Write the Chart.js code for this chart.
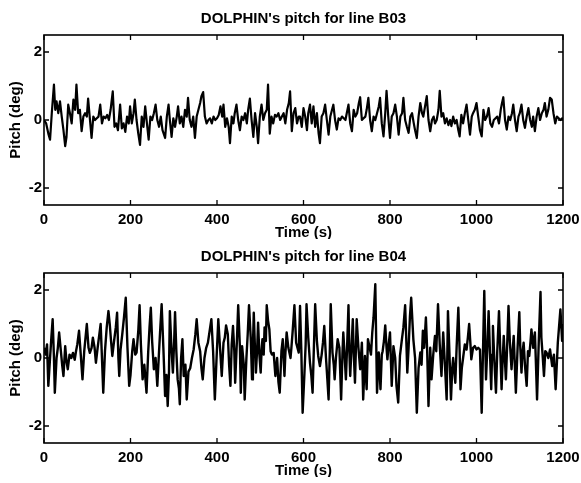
<!DOCTYPE html>
<html>
<head>
<meta charset="utf-8">
<title>DOLPHIN pitch</title>
<script src="https://cdn.jsdelivr.net/npm/chart.js@4"></script>
<style>
  body { margin: 0; background: #fff; width: 581px; height: 483px; position: relative; overflow: hidden; }
  .panel { position: absolute; left: 0; width: 581px; height: 239px; }
</style>
</head>
<body>
<div class="panel" style="top:0"><canvas id="chartB03" width="581" height="239"></canvas></div>
<div class="panel" style="top:238px"><canvas id="chartB04" width="581" height="239"></canvas></div>
<script>
// axis ticks
const xTicks = [0, 200, 400, 600, 800, 1000, 1200];
const yTicks = [-2, 0, 2];

// line B03 - time (s) and pitch (deg)
const b03Time = [
    0, 5, 10, 14, 18, 23, 26, 29, 33, 37,
    41, 45, 49, 52, 56, 60, 64, 68, 72, 75,
    79, 83, 87, 91, 95, 99, 102, 106, 110, 114,
    118, 122, 126, 130, 134, 138, 142, 146, 150, 154,
    159, 163, 167, 171, 176, 180, 184, 188, 192, 196,
    199, 203, 207, 210, 214, 218, 222, 226, 230, 234,
    238, 242, 246, 250, 254, 258, 262, 266, 270, 274,
    280, 284, 288, 291, 295, 299, 303, 307, 310, 314,
    318, 322, 326, 330, 333, 337, 341, 345, 349, 353,
    357, 361, 364, 368, 372, 376, 380, 384, 388, 392,
    396, 400, 404, 408, 412, 415, 419, 423, 427, 430,
    434, 438, 441, 445, 449, 453, 457, 461, 465, 469,
    472, 476, 480, 484, 488, 492, 495, 499, 503, 507,
    511, 515, 518, 522, 526, 530, 534, 538, 542, 546,
    550, 554, 558, 562, 566, 569, 573, 577, 581, 585,
    589, 592, 596, 600, 604, 608, 611, 615, 619, 623,
    627, 631, 635, 638, 642, 646, 650, 654, 658, 662,
    666, 669, 673, 677, 681, 685, 689, 693, 697, 700,
    704, 708, 712, 716, 720, 724, 728, 731, 735, 739,
    743, 746, 750, 754, 758, 762, 766, 770, 774, 777,
    781, 785, 789, 792, 796, 800, 804, 808, 812, 816,
    820, 824, 828, 831, 835, 839, 843, 847, 851, 855,
    858, 862, 866, 870, 874, 877, 881, 885, 889, 893,
    897, 901, 904, 908, 912, 915, 919, 923, 927, 931,
    935, 939, 942, 946, 950, 954, 958, 961, 965, 969,
    973, 977, 981, 985, 989, 992, 996, 1000, 1004, 1008,
    1012, 1016, 1020, 1024, 1028, 1032, 1036, 1040, 1044, 1048,
    1052, 1056, 1059, 1062, 1066, 1070, 1074, 1078, 1082, 1085,
    1089, 1093, 1097, 1100, 1104, 1108, 1112, 1116, 1120, 1124,
    1128, 1131, 1135, 1139, 1143, 1147, 1151, 1155, 1158, 1162,
    1166, 1170, 1174, 1178, 1182, 1186, 1190, 1194, 1198, 1200
];
const b03Pitch = [
    0, -0.1, -0.4, -0.58, 0.2, 1.04, 0.3, 0.55, 0.2, 0.55,
    0.1, -0.3, -0.77, -0.5, 0.45, 0.2, -0.1, 0.6, 0.3, 1.04,
    0.2, 0.3, -0.33, 0.1, 0.2, 0.1, 0.63, 0.05, -0.53, 0.1,
    0, 0.05, 0.1, 0.45, -0.1, 0.1, 0.05, 0.15, 0, 0.3,
    0.84, -0.2, -0.1, -0.3, 0.45, -0.25, -0.1, -0.35, 0.1, -0.1,
    0.4, -0.1, 0.2, 0.6, 0, -0.4, -0.73, 0.1, -0.2, 0.4,
    -0.1, -0.58, 0.1, 0, 0.2, 0.45, 0, -0.2, 0.1, -0.3,
    -0.53, 0.1, 0.45, 0, -0.5, 0.05, -0.2, 0.1, 0.4, -0.1,
    0.1, -0.2, 0.3, 0.1, 0.65, 0, -0.2, 0.1, -0.53, 0.1,
    0.3, 0.5, 0.7, 0.82, 0.1, -0.1, 0, 0.05, -0.1, 0.1,
    0, 0.05, 0.15, 0.4, 0.1, 0.45, -0.2, 0.05, -0.2, -0.68,
    0.1, -0.1, 0.2, 0.45, 0, -0.3, 0.1, 0, 0.2, -0.1,
    0.3, 0.63, 0, -0.5, 0.2, -0.2, -0.68, 0.1, 0.45, 0,
    0.2, 0.3, 1.04, -0.4, 0.1, -0.1, 0.15, 0.1, 0.2, 0,
    0.1, 0.2, -0.1, 0.3, 0.5, 0.84, -0.33, 0.2, 0.35, -0.1,
    0.1, 0.1, -0.2, 0.35, 0.1, -0.3, 0.2, 0.45, -0.1, 0.4,
    -0.2, 0.2, -0.4, -0.68, 0.1, 0.2, 0.45, 0, -0.43, 0.1,
    0.3, 0.45, 0, -0.28, 0.05, 0, 0.1, 0.05, 0, 0.2,
    0.45, -0.1, -0.33, 0.3, 0.1, 0.2, 0.5, 0.67, 0, 0.05,
    0.1, 0.3, 0.65, 0, -0.33, 0.1, 0, 0.2, 0.4, 0.65,
    -0.1, -0.48, 0.2, 0.86, 0.1, -0.53, 0.1, 0.2, 0.45, 0.1,
    -0.43, 0.1, 0.2, 0.65, 0, -0.2, -0.38, 0.1, 0.2, -0.1,
    -0.3, -0.53, 0.1, 0.5, 0.2, 0.1, 0.4, 0.7, 0, -0.33,
    0, 0.1, -0.1, 0, 0.3, 0.86, 0.1, 0.2, -0.1, 0.05,
    -0.15, 0, -0.18, 0.1, -0.1, 0, -0.3, -0.48, 0.15, -0.1,
    0.2, 0.45, 0, -0.43, 0.1, 0.2, 0.3, 0.5, 0.1, -0.3,
    -0.48, 0.3, 0, 0.1, 0.35, -0.1, -0.2, 0, 0.05, 0.1,
    -0.1, 0.3, 0.5, 0.67, 0, -0.28, 0.1, 0, 0.2, 0.45,
    0, -0.33, 0.1, 0.2, 0.45, 0, -0.23, 0.1, 0.35, 0,
    -0.2, 0.1, -0.33, 0.1, 0.35, 0, 0.2, 0.3, 0.5, 0.1,
    0.3, 0.65, 0.6, 0.2, -0.1, 0.1, 0.05, 0, 0.05, 0
];

// line B04
const b04Time = [
    0, 4, 7, 10, 14, 17, 20, 23, 25, 29,
    32, 35, 39, 42, 45, 49, 52, 55, 59, 63,
    67, 71, 74, 77, 81, 85, 89, 93, 96, 99,
    103, 106, 110, 113, 117, 120, 124, 128, 131, 134,
    137, 141, 145, 149, 152, 155, 158, 162, 166, 169,
    172, 174, 177, 181, 185, 189, 193, 197, 200, 204,
    207, 211, 214, 218, 221, 224, 228, 232, 237, 241,
    244, 247, 250, 254, 258, 262, 266, 269, 272, 276,
    280, 283, 286, 289, 291, 295, 298, 301, 303, 306,
    309, 312, 314, 317, 320, 323, 327, 330, 334, 338,
    342, 346, 350, 353, 357, 361, 364, 367, 371, 375,
    379, 383, 387, 391, 395, 399, 403, 407, 411, 415,
    418, 421, 425, 428, 431, 434, 437, 440, 442, 446,
    449, 453, 455, 458, 462, 464, 468, 471, 474, 478,
    481, 483, 485, 488, 490, 493, 495, 498, 501, 503,
    505, 508, 510, 513, 515, 518, 521, 524, 527, 531,
    535, 539, 542, 545, 549, 552, 556, 558, 561, 565,
    570, 572, 575, 579, 583, 586, 589, 592, 595, 598,
    602, 605, 607, 611, 615, 618, 621, 624, 627, 631,
    634, 638, 642, 645, 648, 652, 655, 658, 661, 663,
    667, 670, 672, 675, 679, 683, 687, 690, 692, 695,
    698, 701, 704, 706, 708, 711, 714, 716, 719, 721,
    723, 727, 731, 735, 738, 742, 746, 749, 753, 756,
    759, 762, 766, 770, 774, 778, 781, 783, 786, 789,
    792, 794, 797, 800, 804, 808, 812, 815, 819, 823,
    828, 831, 835, 838, 840, 843, 846, 849, 854, 858,
    862, 866, 870, 873, 876, 879, 883, 886, 889, 893,
    896, 900, 904, 907, 911, 915, 919, 923, 927, 931,
    934, 937, 941, 944, 946, 951, 954, 958, 961, 963,
    966, 969, 973, 977, 980, 983, 986, 988, 992, 996,
    1000, 1004, 1008, 1012, 1015, 1018, 1020, 1022, 1025, 1028,
    1031, 1034, 1036, 1038, 1041, 1045, 1048, 1052, 1055, 1058,
    1060, 1063, 1065, 1068, 1071, 1074, 1077, 1081, 1083, 1086,
    1088, 1091, 1095, 1099, 1101, 1104, 1106, 1109, 1112, 1116,
    1119, 1122, 1125, 1127, 1131, 1135, 1137, 1140, 1144, 1148,
    1150, 1153, 1156, 1159, 1162, 1166, 1170, 1175, 1179, 1183,
    1188, 1194, 1198, 1200
];
const b04Pitch = [
    0.3, 0.1, 0.4, -0.82, 0, 0.6, 1.14, 0, -1.02, 0,
    0.3, 0.75, 0.2, -0.2, -0.53, 0.35, -0.1, -0.33, 0.1, 0,
    0.15, -0.05, 0.2, 0.4, 0.8, 0.1, -0.63, 0.2, 0.6, 1.0,
    0.3, 0.15, 0.3, 0.6, 0.3, -0.14, 0.3, 0.7, 1.0, 0,
    -1.02, 0.2, 0.9, 1.38, 1.0, 0.5, 0.06, 0.5, 0.9, 1.33,
    0, -0.53, 0.25, 0.7, 1.2, 1.77, 0.3, -0.82, -0.5, 0.2,
    0.55, 0.1, 0.16, 0.8, 1.55, 0.4, -0.63, -0.2, -1.02, 0.2,
    0.9, 1.48, 0.5, -0.33, 0, -0.82, 0.2, 0.9, 1.58, 0.3,
    -1.12, -0.5, -1.41, -0.4, 1.38, 0.2, -0.43, 0.5, 1.35, 0.2,
    -0.63, -0.9, -1.36, 0, 0.55, -0.53, -0.2, -1.22, -0.4, -0.3,
    0, 0.25, 0.7, 1.14, 0.45, 0.2, -0.3, -0.63, 0, 0.3,
    0.45, 0.8, 1.14, 0.2, -1.22, 0, 1.14, 0.3, -0.53, 0.45,
    0.6, 0.96, 0.7, -0.2, -0.82, 0.4, 0.94, 0.2, -0.73, 0.5,
    1.55, 0.3, -1.02, 0.35, -0.2, -1.22, 0, 0.7, 1.55, 0.6,
    -0.63, 0.3, 1.33, 0.2, -0.43, 0.3, 1.04, 0.1, -0.43, 0.2,
    0.55, 0.1, 0.9, 0.5, 1.55, 1.1, 0.85, 0.2, 0.1, 0.15,
    -0.53, 0, -0.7, -1.02, 0.2, 0.55, -0.53, 0.1, 0.75, 0.3,
    0, 0.3, 0.8, 1.55, 0.45, 0.3, 0.16, 1.53, 0.2, -1.61,
    -0.5, 0.4, 1.58, 0.6, -0.14, -0.5, -1.02, 0.3, 1.58, 0.5,
    0.06, -0.24, 0.1, 0.45, 0.94, 0, -0.6, -1.22, 0.3, 1.58,
    0.16, -0.2, -0.63, 0, 0.55, 0.3, -1.22, 0.1, 0.75, 0.1,
    -0.63, 0.4, 1.55, 0.2, -0.53, 0.3, 1.14, 0.2, -0.73, 0.2,
    1.14, 0.3, -0.33, 0.45, -1.22, 0.06, -0.92, 0.55, 0.3, 0.1,
    0.75, 1.2, 2.17, -1.02, 0.16, -0.92, 0.1, 0.2, 0.5, 0.96,
    0.3, -0.04, 0.4, 0.75, -0.82, 0.35, 0, -0.82, -1.31, 0.06,
    0.6, 0.9, 1.55, 0.4, -0.43, 0.3, 1.2, 1.77, 0.55, 0,
    -1.61, -0.3, 0.16, -0.2, 0.8, 0.3, 1.19, 0.2, -1.41, 0.3,
    -0.63, 0.1, 0.65, 0.2, 1.58, 0.4, -0.53, 0.75, -0.2, -1.22,
    1.38, 0.3, -1.22, -0.3, 0, -0.73, 0.3, 1.48, 0.2, -0.92,
    -0.3, 0, 0.4, 0.25, 0.6, 1.0, 0.4, -0.04, 0.3, 0.35,
    0.25, 0.3, 0.25, -1.61, 0.2, 1.97, 0.5, -0.63, 0.3, 1.38,
    0.2, -0.92, 0.1, 0.94, 0, -1.02, 0.2, 1.38, 0.2, -0.92,
    -0.2, 0.65, 0.1, -0.63, 0.4, 1.53, 0.5, -0.33, 0.1, 0.65,
    0, -1.02, 0.3, 1.35, 0.4, -0.43, 0.1, 0.45, -0.2, -0.82,
    0.2, 0.06, 0.5, 0.84, 0.3, 0.75, 0, -1.22, 0.5, 1.94,
    0.6, 0.06, -0.53, 0.2, 0.16, 0, 0.25, -0.24, 0.1, -0.92,
    0.45, 1.43, 0.5, 1.0
];

Chart.defaults.font.family = "'Liberation Sans', Arial, sans-serif";
Chart.defaults.font.weight = 'bold';
Chart.defaults.font.size = 15;
Chart.defaults.color = '#000';

// matlab style box with inward ticks on all four sides
const boxTicks = {
    id: 'boxTicks',
    afterDraw(chart) {
        const { ctx, chartArea: a, scales: { x, y } } = chart;
        ctx.save();
        ctx.strokeStyle = '#000';
        ctx.lineWidth = 1.6;
        ctx.strokeRect(a.left, a.top, a.right - a.left, a.bottom - a.top);
        ctx.lineWidth = 1.3;
        ctx.beginPath();
        xTicks.forEach(v => {
            const px = x.getPixelForValue(v);
            ctx.moveTo(px, a.bottom); ctx.lineTo(px, a.bottom - 5);
            ctx.moveTo(px, a.top); ctx.lineTo(px, a.top + 5);
        });
        yTicks.forEach(v => {
            const py = y.getPixelForValue(v);
            ctx.moveTo(a.left, py); ctx.lineTo(a.left + 5, py);
            ctx.moveTo(a.right, py); ctx.lineTo(a.right - 5, py);
        });
        ctx.stroke();
        ctx.restore();
    }
};

function makePitchChart(id, title, times, pitch, lineWidth) {
    const points = times.map((t, i) => ({ x: t, y: pitch[i] }));
    return new Chart(document.getElementById(id), {
        type: 'line',
        data: {
            datasets: [{
                data: points,
                borderColor: '#000',
                borderWidth: lineWidth,
                borderJoinStyle: 'round',
                pointRadius: 0,
                tension: 0
            }]
        },
        options: {
            responsive: false,
            animation: false,
            plugins: {
                legend: { display: false },
                tooltip: { enabled: false },
                title: {
                    display: true,
                    text: title,
                    fullSize: false,
                    padding: { top: 10, bottom: 7 },
                    font: { size: 15, weight: 'bold' }
                }
            },
            scales: {
                x: {
                    type: 'linear',
                    min: 0,
                    max: 1200,
                    grid: { display: false, drawTicks: false, tickLength: 0 },
                    border: { display: false },
                    afterBuildTicks: s => { s.ticks = xTicks.map(v => ({ value: v })); },
                    afterFit: s => { s.height = 34; s.paddingLeft = 0; s.paddingRight = 18; },
                    ticks: { padding: 6, autoSkip: false, maxRotation: 0, callback: v => String(v) },
                    title: { display: true, text: 'Time (s)', padding: { top: 0, bottom: -3 } }
                },
                y: {
                    min: -2.5,
                    max: 2.5,
                    grid: { display: false, drawTicks: false, tickLength: 0 },
                    border: { display: false },
                    afterBuildTicks: s => { s.ticks = yTicks.map(v => ({ value: v })); },
                    afterFit: s => { s.width = 44; },
                    ticks: { padding: 2, callback: v => String(v) },
                    title: { display: true, text: 'Pitch (deg)', padding: { top: 7, bottom: 0 } }
                }
            }
        },
        plugins: [boxTicks]
    });
}

makePitchChart('chartB03', "DOLPHIN's pitch for line B03", b03Time, b03Pitch, 2.2);
makePitchChart('chartB04', "DOLPHIN's pitch for line B04", b04Time, b04Pitch, 2.4);
</script>
</body>
</html>
